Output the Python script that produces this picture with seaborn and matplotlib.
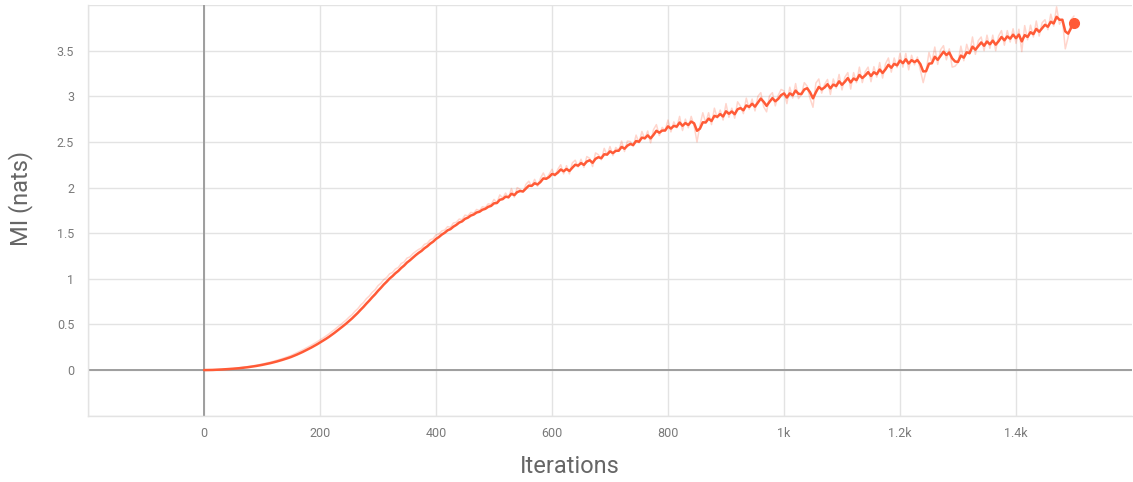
import numpy as np
import pandas as pd
import matplotlib
matplotlib.use("Agg")
import matplotlib.pyplot as plt
import seaborn as sns

# Training log: mutual-information estimate recorded every 5 iterations
iterations = np.arange(0, 1501, 5)
mi_raw = [
    # 0 - 495
    0.000, 0.001, 0.002, 0.003, 0.005, 0.007, 0.009, 0.011, 0.013, 0.016,
    0.018, 0.021, 0.025, 0.029, 0.033, 0.037, 0.042, 0.047, 0.053, 0.059,
    0.066, 0.073, 0.080, 0.088, 0.097, 0.106, 0.116, 0.126, 0.137, 0.148,
    0.160, 0.175, 0.190, 0.205, 0.221, 0.238, 0.255, 0.272, 0.291, 0.310,
    0.331, 0.350, 0.372, 0.394, 0.420, 0.443, 0.470, 0.494, 0.522, 0.548,
    0.580, 0.606, 0.643, 0.672, 0.712, 0.741, 0.783, 0.812, 0.852, 0.880,
    0.925, 0.952, 0.992, 1.015, 1.055, 1.070, 1.108, 1.125, 1.168, 1.185,
    1.228, 1.240, 1.275, 1.300, 1.322, 1.338, 1.378, 1.390, 1.428, 1.440,
    1.482, 1.490, 1.525, 1.535, 1.572, 1.565, 1.612, 1.620, 1.655, 1.650,
    1.698, 1.690, 1.728, 1.722, 1.760, 1.748, 1.790, 1.782, 1.822, 1.815,
    # 500 - 995
    1.870, 1.835, 1.920, 1.885, 1.940, 1.885, 1.990, 1.895, 2.000, 1.980,
    1.950, 2.035, 2.070, 2.015, 2.090, 2.015, 2.100, 2.160, 2.090, 2.145,
    2.200, 2.125, 2.200, 2.250, 2.150, 2.240, 2.150, 2.270, 2.300, 2.225,
    2.310, 2.220, 2.340, 2.320, 2.230, 2.380, 2.360, 2.305, 2.430, 2.355,
    2.450, 2.350, 2.440, 2.405, 2.510, 2.395, 2.510, 2.505, 2.450, 2.575,
    2.490, 2.615, 2.530, 2.620, 2.490, 2.635, 2.690, 2.570, 2.660, 2.625,
    2.740, 2.610, 2.720, 2.655, 2.780, 2.625, 2.750, 2.655, 2.780, 2.675,
    2.500, 2.680, 2.820, 2.710, 2.820, 2.690, 2.870, 2.760, 2.850, 2.740,
    2.920, 2.770, 2.870, 2.760, 2.940, 2.890, 2.810, 2.980, 2.860, 2.970,
    2.840, 3.000, 3.040, 2.885, 2.830, 3.005, 3.040, 2.895, 3.010, 3.075,
    # 1000 - 1495
    3.060, 2.920, 3.100, 2.980, 3.140, 2.975, 3.020, 3.150, 3.110, 2.975,
    2.880, 3.145, 3.190, 3.035, 3.130, 3.185, 3.020, 3.190, 3.090, 3.240,
    3.070, 3.210, 3.260, 3.080, 3.260, 3.150, 3.320, 3.150, 3.270, 3.320,
    3.160, 3.325, 3.210, 3.370, 3.200, 3.355, 3.420, 3.265, 3.420, 3.315,
    3.470, 3.320, 3.470, 3.290, 3.450, 3.345, 3.430, 3.290, 3.150, 3.280,
    3.480, 3.370, 3.540, 3.350, 3.510, 3.555, 3.400, 3.520, 3.320, 3.330,
    3.370, 3.550, 3.390, 3.570, 3.460, 3.650, 3.460, 3.610, 3.650, 3.500,
    3.670, 3.525, 3.670, 3.500, 3.660, 3.720, 3.560, 3.720, 3.595, 3.740,
    3.580, 3.735, 3.490, 3.775, 3.620, 3.780, 3.650, 3.825, 3.660, 3.805,
    3.840, 3.730, 3.900, 3.770, 3.980, 3.790, 3.840, 3.520, 3.650, 3.840,
    # 1500
    3.880,
]

y_ticks = [-0.5, 0, 0.5, 1, 1.5, 2, 2.5, 3, 3.5, 4.0]
y_tick_labels = ["", "0", "0.5", "1", "1.5", "2", "2.5", "3", "3.5", ""]
x_ticks = [-200, 0, 200, 400, 600, 800, 1000, 1200, 1400]
x_tick_labels = ["", "0", "200", "400", "600", "800", "1k", "1.2k", "1.4k"]

SMOOTHING = 0.6

df = pd.DataFrame({"Iterations": iterations, "raw": mi_raw})
# exponential moving average of the raw series
df["smoothed"] = df["raw"].ewm(alpha=1 - SMOOTHING, adjust=False).mean()

sns.set_theme(style="whitegrid")
plt.rcParams["font.family"] = ["Roboto", "DejaVu Sans"]

line_color = "#ff5a36"
grid_color = "#e3e3e3"
text_color = "#7a7a7a"
label_color = "#666666"

fig = plt.figure(figsize=(11.33, 4.82), dpi=100)
ax = fig.add_axes([0.0777, 0.1375, 0.9214, 0.852])

sns.lineplot(data=df, x="Iterations", y="raw", ax=ax, color=line_color,
             alpha=0.25, linewidth=1.1, zorder=3)
sns.lineplot(data=df, x="Iterations", y="smoothed", ax=ax, color=line_color,
             linewidth=1.8, zorder=4)
ax.plot(df["Iterations"].iloc[-1], df["smoothed"].iloc[-1], "o",
        color=line_color, markersize=7, zorder=5)

ax.set_xlim(-200, 1600)
ax.set_ylim(-0.5, 4.0)
ax.set_xticks(x_ticks)
ax.set_xticklabels(x_tick_labels)
ax.set_yticks(y_ticks)
ax.set_yticklabels(y_tick_labels)

ax.grid(True, color=grid_color, linewidth=1.0)
ax.axhline(0, color="#9e9e9e", linewidth=1.4, zorder=2)
ax.axvline(0, color="#9e9e9e", linewidth=1.4, zorder=2)

for side in ["top", "right"]:
    ax.spines[side].set_visible(False)
for side in ["left", "bottom"]:
    ax.spines[side].set_visible(True)
    ax.spines[side].set_color(grid_color)
    ax.spines[side].set_linewidth(1.0)

ax.tick_params(axis="both", which="both", length=5, width=1.0, color=grid_color,
               labelcolor=text_color, labelsize=9)
ax.tick_params(axis="x", pad=3)
ax.tick_params(axis="y", pad=5)

ax.set_xlabel("Iterations", fontsize=17, color=label_color)
ax.set_ylabel("MI (nats)", fontsize=17, color=label_color)
ax.xaxis.set_label_coords(0.4617, -0.095)
ax.yaxis.set_label_coords(-0.053, 0.53)

fig.savefig("out.png", dpi=100)
